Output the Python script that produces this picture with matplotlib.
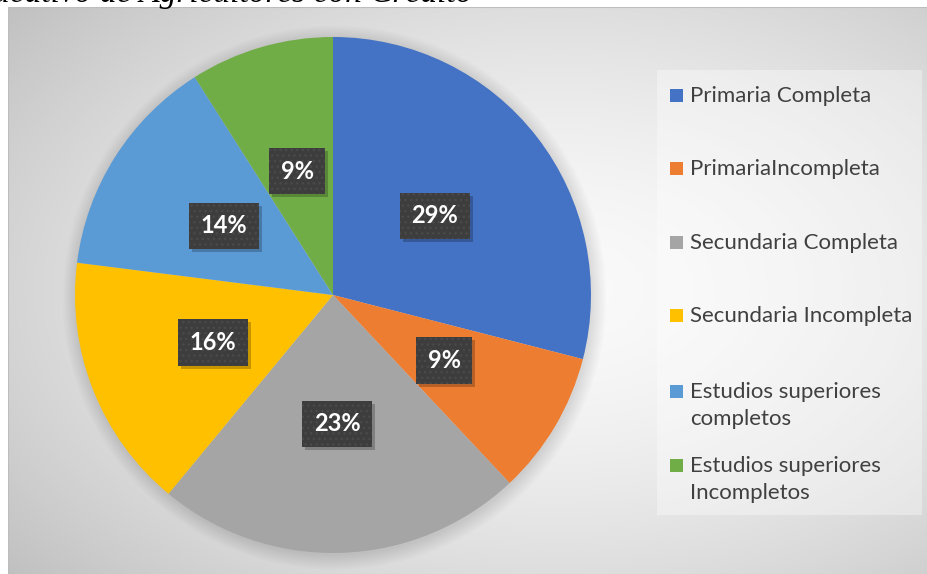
import numpy as np
import matplotlib
matplotlib.use("Agg")
import matplotlib.pyplot as plt
from matplotlib.patches import Rectangle, Circle
import matplotlib.transforms as mtransforms

categories = [
    "Primaria Completa",
    "PrimariaIncompleta",
    "Secundaria Completa",
    "Secundaria Incompleta",
    "Estudios superiores\ncompletos",
    "Estudios superiores\nIncompletos",
]
values = [29, 9, 23, 16, 14, 9]
colors = ["#4472C4", "#ED7D31", "#A5A5A5", "#FFC000", "#5B9BD5", "#70AD47"]
title_visible = "ucativo de Agricultores con Crédito"

W, H = 927, 574
fig = plt.figure(figsize=(W / 100, H / 100), dpi=100)
fig.patch.set_facecolor("white")


def fx(px):
    return px / W


def fy(py):
    return 1 - py / H


# chart area background with soft radial gradient
x0, y0 = 8, 7
bg = fig.add_axes([fx(x0), 0, fx(W - x0), (H - y0) / H])
bg.set_axis_off()
xs = np.linspace(x0, W, 400)
ys = np.linspace(y0, H, 250)
gx, gy = np.meshgrid(xs, ys)
r = np.hypot((gx - 560) / 460, (gy - 290) / 283)
v = np.clip(0.98 - 0.11 * r ** 1.6, 0, 1)
bg.imshow(np.dstack([v, v, v]), extent=[x0, W, H, y0], aspect="auto",
          interpolation="bilinear")
bg.set_xlim(x0, W)
bg.set_ylim(H, y0)
bg.plot([x0, x0, W], [H, y0, y0], color="#bdbdbd", lw=1.5)

# legend panel
bg.add_patch(Rectangle((657, 70), 265, 445, facecolor="white", alpha=0.35,
                       edgecolor="none"))
legend_y = [95, 168, 242, 315, 391, 465]
for cat, col, ly in zip(categories, colors, legend_y):
    bg.add_patch(Rectangle((670, ly - 6), 13, 13, facecolor=col,
                           edgecolor="none"))
    for i, line in enumerate(cat.split("\n")):
        bg.text(690, ly + 7 + 27 * i, line, ha="left", va="baseline",
                fontsize=16, family="Lato", color="#404040")

# pie
cx, cy, rad = 333, 295, 258
ax = fig.add_axes([fx(cx - rad), fy(cy + rad), (2 * rad) / W, (2 * rad) / H])
ax.set_axis_off()

# faint shadow round the pie
for k in range(10):
    ax.add_patch(Circle((0.006, -0.01), 1.0 + 0.006 * k, facecolor="black",
                        alpha=0.012, edgecolor="none", zorder=0,
                        clip_on=False))

wedges, texts, autotexts = ax.pie(
    values, colors=colors, startangle=90, counterclock=False, radius=1,
    autopct="%1.0f%%", pctdistance=0.5,
    wedgeprops=dict(linewidth=0),
    textprops=dict(color="white", fontsize=17, fontweight="bold",
                   family="Lato"),
)
ax.set_xlim(-1, 1)
ax.set_ylim(-1, 1)

for t in autotexts:
    t.set_zorder(5)
    t.set_ha("center")
    t.set_va("center")
    t.set_bbox(dict(boxstyle="square,pad=0.5", facecolor="#3d3d3d",
                    edgecolor="#4a4a4a", linewidth=0, hatch="..."))

# drop shadow behind each label box
fig.canvas.draw()
renderer = fig.canvas.get_renderer()
for t in autotexts:
    bb = t.get_bbox_patch().get_window_extent(renderer)
    ax.add_patch(Rectangle((bb.x0 + 3, bb.y0 - 3), bb.width, bb.height,
                           transform=mtransforms.IdentityTransform(),
                           facecolor="black", alpha=0.22, edgecolor="none",
                           zorder=4, clip_on=False))

# cropped caption above the chart
fig.text(fx(472), fy(2), title_visible, ha="right", va="baseline",
         fontsize=24, family="Liberation Serif", style="italic",
         color="black")

fig.savefig("out.png", dpi=100)
